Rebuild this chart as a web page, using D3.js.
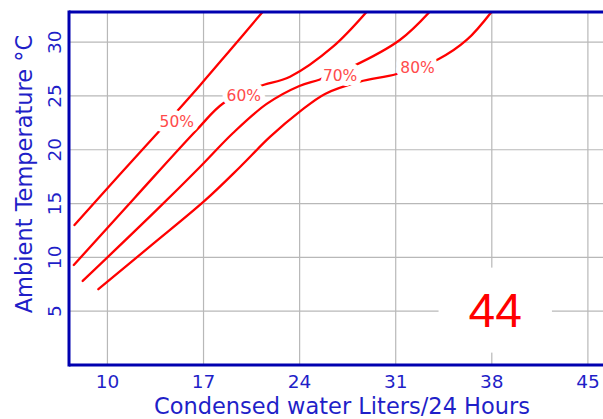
<!DOCTYPE html>
<html>
<head>
<meta charset="utf-8">
<script src="https://cdn.jsdelivr.net/npm/d3@7"></script>
<style>
  html, body { margin: 0; padding: 0; background: #fff; }
  svg { display: block; font-family: "DejaVu Sans", Verdana, sans-serif; }
</style>
</head>
<body>
<div id="chart"></div>
<script>
// humidity curves: [condensed water L/24h, ambient temperature °C]
const rh50 = [[7.6, 13.0], [10.9, 17.7], [13.85, 21.84], [16.75, 26.0], [18.9, 29.2], [21.3, 32.8]];
const rh60 = [[7.55, 9.29], [12.01, 15.57], [16.5, 21.84], [18.44, 24.32], [20.99, 25.86], [23.3, 26.79], [26.43, 29.58], [28.89, 32.83]];
const rh70 = [[8.2, 7.81], [13.59, 14.41], [16.74, 18.4], [19.15, 21.56], [21.6, 24.26], [23.98, 25.93], [25.48, 26.53], [27.79, 27.7], [31.3, 30.2], [33.48, 32.83]];
const rh80 = [[9.34, 7.04], [13.1, 11.02], [17.11, 15.29], [19.66, 18.4], [21.84, 21.19], [24.03, 23.56], [25.85, 25.19], [28.39, 26.33], [31.07, 27.04], [34.1, 28.41], [36.17, 30.2], [37.99, 32.83]];

const humidityLabels = ['50%', '60%', '70%', '80%'];
const labelAt = [[15.05, 22.54], [19.93, 25.0], [26.95, 26.86], [32.59, 27.6]];

const xTicks = [10, 17, 24, 31, 38, 45];
const yTicks = [5, 10, 15, 20, 25, 30];

const reading = '44';
const readingAt = [38.25, 5.1];

const width = 603, height = 419;
const plot = { left: 69, right: 603, top: 12, bottom: 365 };
const frameColor = '#0000b0';
const textColor = '#1f1fc8';

const svg = d3.select('#chart').append('svg')
    .attr('width', width)
    .attr('height', height);

const x = d3.scaleLinear().domain([7.2, 46.1]).range([plot.left, plot.right]);
const y = d3.scaleLinear().domain([0, 32.8]).range([plot.bottom, plot.top]);

svg.append('defs').append('clipPath').attr('id', 'plotClip')
    .append('rect')
    .attr('x', plot.left).attr('y', plot.top)
    .attr('width', plot.right - plot.left).attr('height', plot.bottom - plot.top);

// grid
const grid = svg.append('g').attr('stroke', '#b8b8b8').attr('stroke-width', 1.2);
grid.selectAll('line.gx').data(xTicks).enter().append('line')
    .attr('x1', d => x(d)).attr('x2', d => x(d))
    .attr('y1', plot.top).attr('y2', plot.bottom);
grid.selectAll('line.gy').data(yTicks).enter().append('line')
    .attr('x1', plot.left).attr('x2', plot.right)
    .attr('y1', d => y(d)).attr('y2', d => y(d));

// curves
const line = d3.line()
    .x(d => x(d[0]))
    .y(d => y(d[1]))
    .curve(d3.curveCatmullRom.alpha(0.5));

svg.append('g').attr('clip-path', 'url(#plotClip)')
    .selectAll('path')
    .data([rh50, rh60, rh70, rh80])
    .enter().append('path')
    .attr('d', line)
    .attr('fill', 'none')
    .attr('stroke', '#ff0000')
    .attr('stroke-width', 2.3)
    .attr('stroke-linecap', 'round');

// curve labels, with a white halo that breaks the line
svg.append('g')
    .selectAll('text')
    .data(humidityLabels)
    .enter().append('text')
    .attr('x', (d, i) => x(labelAt[i][0]))
    .attr('y', (d, i) => y(labelAt[i][1]))
    .attr('text-anchor', 'middle')
    .attr('dominant-baseline', 'central')
    .attr('font-size', 15.5)
    .attr('fill', '#ff4b4b')
    .attr('stroke', '#fff')
    .attr('stroke-width', 10)
    .attr('stroke-linejoin', 'round')
    .attr('paint-order', 'stroke')
    .text(d => d);

// big reading in a white box
const readingG = svg.append('g');
const readingBox = readingG.append('rect').attr('fill', '#fff');
const readingText = readingG.append('text')
    .attr('x', x(readingAt[0]))
    .attr('y', y(readingAt[1]))
    .attr('text-anchor', 'middle')
    .attr('dominant-baseline', 'central')
    .attr('font-family', '"Liberation Sans", Arial, sans-serif')
    .attr('font-size', 48)
    .attr('fill', '#ff0000')
    .text(reading);
const bb = readingText.node().getBBox();
readingBox
    .attr('x', bb.x - 30).attr('y', bb.y - 16)
    .attr('width', bb.width + 60).attr('height', bb.height + 32);

// frame (right side is cut off in the original)
const frame = svg.append('g').attr('stroke', frameColor).attr('stroke-width', 3);
frame.append('line').attr('x1', plot.left).attr('x2', plot.left).attr('y1', plot.top - 1.5).attr('y2', plot.bottom + 1.5);
frame.append('line').attr('x1', plot.left).attr('x2', plot.right).attr('y1', plot.top).attr('y2', plot.top);
frame.append('line').attr('x1', plot.left).attr('x2', plot.right).attr('y1', plot.bottom).attr('y2', plot.bottom);

// tick labels
svg.append('g')
    .selectAll('text')
    .data(xTicks)
    .enter().append('text')
    .attr('x', d => x(d))
    .attr('y', 388)
    .attr('text-anchor', 'middle')
    .attr('font-size', 18.5)
    .attr('fill', textColor)
    .text(d => d);

svg.append('g')
    .selectAll('text')
    .data(yTicks)
    .enter().append('text')
    .attr('transform', d => `translate(61,${y(d)}) rotate(-90)`)
    .attr('text-anchor', 'middle')
    .attr('font-size', 18.5)
    .attr('fill', textColor)
    .text(d => d);

// axis titles
svg.append('text')
    .attr('x', 342)
    .attr('y', 414)
    .attr('text-anchor', 'middle')
    .attr('font-size', 22.5)
    .attr('fill', textColor)
    .text('Condensed water Liters/24 Hours');

svg.append('text')
    .attr('transform', 'translate(32,174) rotate(-90)')
    .attr('text-anchor', 'middle')
    .attr('font-size', 22.5)
    .attr('fill', textColor)
    .text('Ambient Temperature °C');
</script>
</body>
</html>
